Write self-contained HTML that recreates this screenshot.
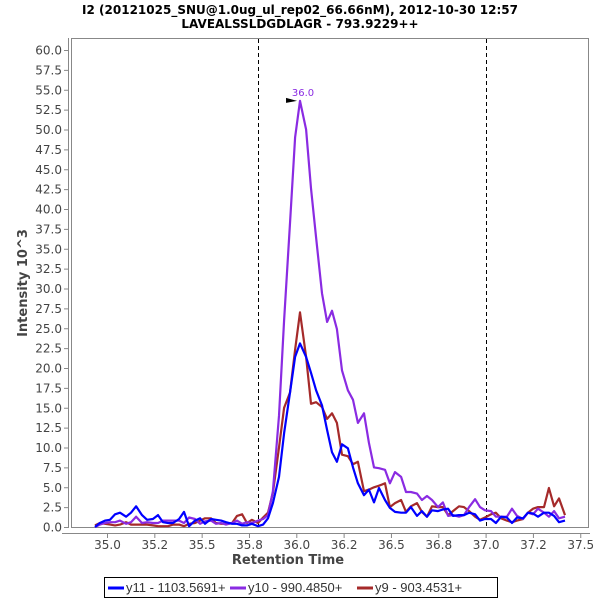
<!DOCTYPE html>
<html><head><meta charset="utf-8"><style>
body{margin:0;background:#fff;width:600px;height:600px;overflow:hidden;font-family:"Liberation Sans",sans-serif}
svg text{font-family:"DejaVu Sans","Liberation Sans",sans-serif}
svg text.leg{font-family:"Liberation Sans",sans-serif}
</style></head><body>
<svg id="chart" width="600" height="600" xmlns="http://www.w3.org/2000/svg">
<text x="300" y="14" text-anchor="middle" font-size="12" font-weight="bold" fill="#000">I2 (20121025_SNU@1.0ug_ul_rep02_66.66nM), 2012-10-30 12:57</text>
<text x="300" y="28" text-anchor="middle" font-size="12" font-weight="bold" fill="#000">LAVEALSSLDGDLAGR - 793.9229++</text>
<rect x="71.5" y="38.5" width="517" height="489" fill="#fff" stroke="#888"/>
<line x1="68.5" y1="38" x2="68.5" y2="528" stroke="#888"/>
<line x1="62" y1="533.5" x2="590" y2="533.5" stroke="#888"/>
<g id="yticks"></g><g id="xticks"></g>
<text x="288" y="564" text-anchor="middle" font-size="13" font-weight="bold" fill="#444">Retention Time</text>
<text transform="translate(27,283) rotate(-90)" text-anchor="middle" font-size="13" font-weight="bold" fill="#444">Intensity 10^3</text>
<g id="marks"></g>
<g>
<rect x="104.5" y="577.5" width="393" height="20" fill="#fff" stroke="#000"/>
<line x1="108" y1="588" x2="124" y2="588" stroke="#0000ff" stroke-width="3"/>
<text class="leg" x="126" y="592" font-size="13" fill="#333">y11 - 1103.5691+</text>
<line x1="230" y1="588" x2="246" y2="588" stroke="#8a2be2" stroke-width="3"/>
<text class="leg" x="248" y="592" font-size="13" fill="#333">y10 - 990.4850+</text>
<line x1="357" y1="588" x2="373" y2="588" stroke="#a52a2a" stroke-width="3"/>
<text class="leg" x="375" y="592" font-size="13" fill="#333">y9 - 903.4531+</text>
</g>
</svg>
<script>
const times=[34.934,34.960,34.987,35.013,35.040,35.066,35.098,35.124,35.151,35.182,35.209,35.240,35.267,35.293,35.320,35.346,35.378,35.404,35.431,35.462,35.489,35.515,35.547,35.573,35.600,35.626,35.658,35.684,35.711,35.737,35.763,35.795,35.822,35.848,35.874,35.906,35.933,35.964,35.991,36.017,36.049,36.075,36.102,36.133,36.160,36.186,36.212,36.239,36.270,36.297,36.323,36.355,36.381,36.408,36.434,36.466,36.492,36.519,36.551,36.577,36.603,36.635,36.661,36.688,36.714,36.746,36.772,36.799,36.825,36.857,36.883,36.910,36.942,36.968,36.994,37.026,37.052,37.079,37.110,37.137,37.163,37.195,37.221,37.248,37.274,37.306,37.332,37.359,37.385,37.417];
const y11=[0,0.5,0.8,0.9,1.6,1.8,1.3,1.8,2.6,1.5,0.9,1.0,1.5,0.6,0.5,0.5,1.0,1.9,0.1,0.8,1.1,0.4,1.0,0.9,0.8,0.6,0.4,0.4,0.2,0.2,0.4,0.1,0.3,1.1,3.0,6.3,11.8,16.9,21.4,23.1,21.4,19.4,17.2,15.3,12.2,9.4,8.2,10.4,9.9,7.5,5.5,4.0,4.7,3.1,4.9,3.4,2.4,1.9,1.8,1.8,2.5,1.4,2.0,1.3,2.1,2.0,2.2,2.3,1.4,1.5,1.5,1.8,1.6,0.8,1.0,1.0,0.5,1.3,1.2,0.5,1.2,1.1,1.8,1.7,1.3,1.8,1.8,1.4,0.6,0.8];
const y10=[0,0.3,0.5,0.6,0.6,0.8,0.4,0.6,1.3,0.5,0.6,0.5,0.5,0.8,0.8,0.8,0.8,0.5,1.2,1.0,0.4,0.7,0.8,0.4,0.5,0.3,0.5,0.8,0.4,0.6,0.5,0.8,1.0,1.5,4.5,14,26,38.2,49,53.6,50,42.6,36.4,29.4,25.8,27.2,24.9,19.7,17.2,16,13.1,14.3,10.6,7.5,7.4,7.2,5.5,6.9,6.3,4.4,4.4,4.2,3.4,3.9,3.4,2.5,3.1,1.4,1.5,1.3,1.5,2.5,3.5,2.5,2.1,2.0,1.3,1.3,1.3,2.3,1.4,1.0,1.8,1.6,2.3,1.8,1.3,2.0,1.1,1.3];
const y9=[0.2,0.5,0.4,0.3,0.2,0.3,0.6,0.3,0.3,0.3,0.3,0.2,0.1,0.1,0.1,0.3,0.3,0.1,0.4,0.5,0.8,1.1,1.1,0.5,0.4,0.4,0.5,1.4,1.6,0.5,0.9,0.5,1.2,1.8,4.3,10,15,16.9,22.3,27,21.4,15.5,15.7,15.1,13.6,14.3,13.1,9.1,8.9,7.9,8.2,4.5,4.7,5.0,5.2,5.5,2.5,3.0,3.4,1.9,2.6,3.0,1.9,1.3,2.6,2.5,2.5,1.5,2.0,2.6,2.5,2.0,1.3,0.9,1.2,1.6,1.8,1.1,0.8,0.6,0.8,1.0,1.8,2.3,2.5,2.5,4.9,2.6,3.6,1.5];
const yTickLabels=["0.0","2.5","5.0","7.5","10.0","12.5","15.0","17.5","20.0","22.5","25.0","27.5","30.0","32.5","35.0","37.5","40.0","42.5","45.0","47.5","50.0","52.5","55.0","57.5","60.0"];
const xTickValues=[35.0,35.25,35.5,35.75,36.0,36.25,36.5,36.75,37.0,37.25,37.5];
const xTickLabels=["35.0","35.2","35.5","35.8","36.0","36.2","36.5","36.8","37.0","37.2","37.5"];
const markerLines=[35.795,37.0];

const NS="http://www.w3.org/2000/svg";
function xs(t){return 107.5+(t-35)*189.3;}
function ys(v){return 527-v*7.95;}
function mk(tag,attrs,parent){const e=document.createElementNS(NS,tag);for(const k in attrs)e.setAttribute(k,attrs[k]);parent.appendChild(e);return e;}
const yg=document.getElementById('yticks');
yTickLabels.forEach(function(l){
  const v=parseFloat(l),y=ys(v);
  const tk=mk('line',{x1:64,x2:68,y1:y+0.5,y2:y+0.5,stroke:'#888'},yg);
  
  
  const tx=mk('text',{x:62,y:y+4.5,'text-anchor':'end','font-size':12,fill:'#444'},yg);
  tx.textContent=l;
  
  
});
const xg=document.getElementById('xticks');
xTickValues.forEach(function(v,i){
  const x=xs(v);
  const tk=mk('line',{x1:x,x2:x,y1:534,y2:538,stroke:'#888'},xg);
  
  
  const tx=mk('text',{x:x,y:549,'text-anchor':'middle','font-size':12,fill:'#444'},xg);
  tx.textContent=xTickLabels[i];
  
  
});
const mg=document.getElementById('marks');
markerLines.forEach(function(t){
  const x=Math.round(xs(t))+0.5;
  const l=mk('line',{x1:x,x2:x,y1:39,y2:527,stroke:'#000','stroke-dasharray':'4,3','stroke-width':1},mg);
  
  
});
function series(vals,color,name){
  let d='';
  for(let i=0;i<Math.min(times.length,vals.length);i++){d+=(i?'L':'M')+xs(times[i]).toFixed(1)+' '+ys(vals[i]).toFixed(1);}
  const p=mk('path',{d:d,fill:'none',stroke:color,'stroke-width':2.2,'stroke-linejoin':'round'},mg);
  
  
}
series(y9,'#a52a2a','series-y9');
series(y10,'#8a2be2','series-y10');
series(y11,'#0000ff','series-y11');
let pi=0;y10.forEach(function(v,i){if(v>y10[pi])pi=i;});
const px=xs(times[pi]),py=ys(y10[pi]);
const tri=mk('path',{d:'M'+(px-14)+' '+(py-3)+'L'+(px-3)+' '+py+'L'+(px-14)+' '+(py+2)+'Z',fill:'#000'},mg);


const pl=mk('text',{x:px+3,y:py-5,'text-anchor':'middle','font-size':10,fill:'#8a2be2'},mg);
pl.textContent=times[pi].toFixed(1);


</script>
</body></html>
